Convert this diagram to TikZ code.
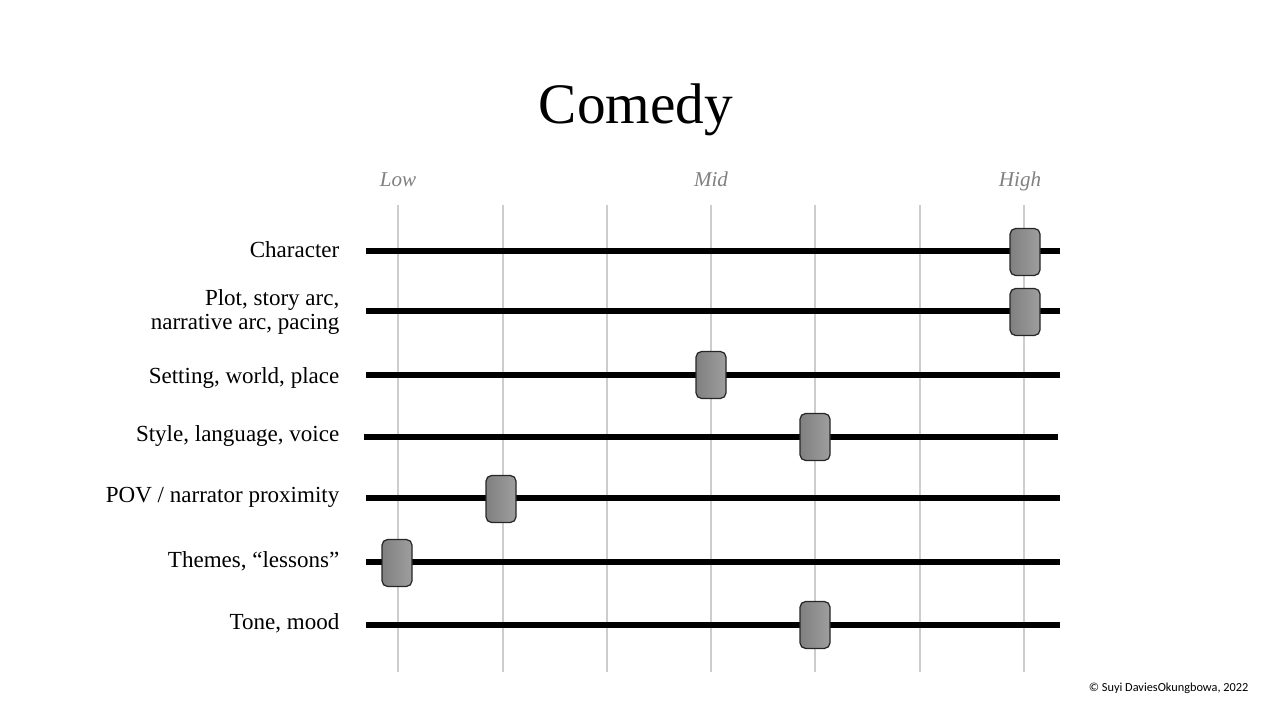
\documentclass[tikz,border=0pt]{standalone}
\usepackage{fontspec}
\setmainfont{Liberation Serif}
\newfontfamily\notefont{Carlito}
\usepackage{tikz}
\usetikzlibrary{positioning, calc}
\definecolor{GridGrey}{RGB}{205,205,205}
\definecolor{TickGrey}{RGB}{128,128,128}

\begin{document}
\begin{tikzpicture}[
          lbl/.style={anchor=east, align=right, inner sep=0pt,
                      font=\fontsize{6.55}{7.1}\selectfont},
          tick/.style={anchor=base, font=\fontsize{6}{7}\selectfont\itshape, text=TickGrey},
          bar/.style={line width=1.45pt},
          grid/.style={draw=GridGrey, line width=0.35pt},
          knob/.style={rectangle, rounded corners=1.6pt, draw=black!85, line width=0.35pt,
                       minimum width=0.30cm, minimum height=0.47cm, inner sep=0pt,
                       left color=black!50, right color=black!38}
        ]
        \useasboundingbox (0,0) rectangle (12.8,7.2);

        % Title
        \node[font=\fontsize{16.3}{19}\selectfont] (title) at (6.36, 6.10) {Comedy};

        % Scale marks
        \node[tick] (low)  at (3.98, 5.33) {Low};
        \node[tick] (mid)  at (7.11, 5.33) {Mid};
        \node[tick] (high) at (10.20, 5.33) {High};

        % Grid lines
        \foreach \x in {3.98, 5.03, 6.07, 7.11, 8.15, 9.20, 10.24}
          \draw[grid] (\x, 5.15) -- (\x, 0.48);

        % Character
        \node[lbl] (char) at (3.40, 4.70) {Character};
        \draw[bar] (3.66, 4.69) -- (10.60, 4.69);
        \node[knob] (kchar) at (10.25, 4.68) {};

        % Plot
        \node[lbl] (plot) at (3.40, 4.08) {Plot, story arc,\\narrative arc, pacing};
        \draw[bar] (3.66, 4.09) -- (10.60, 4.09);
        \node[knob] (kplot) at (10.25, 4.08) {};

        % Setting
        \node[lbl] (sett) at (3.40, 3.42) {Setting, world, place};
        \draw[bar] (3.66, 3.45) -- (10.60, 3.45);
        \node[knob] (ksett) at (7.11, 3.45) {};

        % Style
        \node[lbl] (styl) at (3.40, 2.84) {Style, language, voice};
        \draw[bar] (3.64, 2.83) -- (10.58, 2.83);
        \node[knob] (kstyl) at (8.15, 2.83) {};

        % POV
        \node[lbl] (pov) at (3.40, 2.23) {POV / narrator proximity};
        \draw[bar] (3.66, 2.22) -- (10.60, 2.22);
        \node[knob] (kpov) at (5.01, 2.21) {};

        % Themes
        \node[lbl] (them) at (3.40, 1.59) {Themes, “lessons”};
        \draw[bar] (3.66, 1.58) -- (10.60, 1.58);
        \node[knob] (kthem) at (3.97, 1.57) {};

        % Tone
        \node[lbl] (tone) at (3.40, 0.97) {Tone, mood};
        \draw[bar] (3.66, 0.95) -- (10.60, 0.95);
        \node[knob] (ktone) at (8.15, 0.95) {};

        % Credit
        \node[anchor=east, inner sep=0pt, font=\notefont\fontsize{3.5}{4.5}\selectfont]
              (credit) at (12.49, 0.32) {© Suyi DaviesOkungbowa, 2022};
      \end{tikzpicture}
\end{document}
